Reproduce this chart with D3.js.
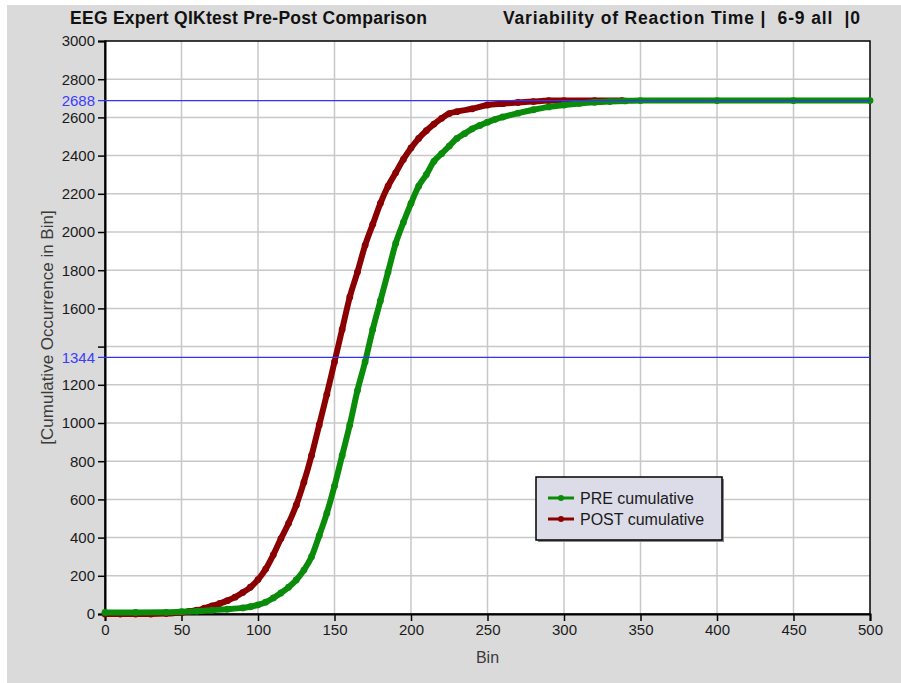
<!DOCTYPE html>
<html>
<head>
<meta charset="utf-8">
<title>EEG Expert QIKtest Pre-Post Comparison</title>
<style>
    html, body {margin: 0px; padding: 0px; overflow: hidden; background: #ffffff;}
    svg {display: block;}
    svg text {font-family: "Liberation Sans", Arial, sans-serif;}
    .tick text {font-size: 15px; fill: #1a1a1a;}
    .mark-label {font-size: 15px; fill: #3c3cff;}
</style>
</head>
<body>
<div id="chart"></div>
<script src="https://cdn.jsdelivr.net/npm/d3@7"></script>
<script>
// values
var titleLeft = "EEG Expert QIKtest Pre-Post Comparison";
var titleRight = "Variability of Reaction Time |  6-9 all  |0";

var preBins = [0, 20, 40, 50, 60, 70, 80, 90, 95, 100, 105, 110, 115, 120, 125, 130, 135, 140, 145, 150,
    155, 160, 165, 170, 175, 180, 185, 190, 195, 200, 205, 210, 215, 220, 225, 230, 235, 240, 245, 250,
    255, 260, 270, 280, 290, 300, 310, 320, 330, 340, 350, 400, 450, 500];
var preValues = [8, 8, 9, 12, 15, 20, 25, 32, 38, 48, 62, 84, 110, 140, 178, 230, 300, 410, 528, 670,
    830, 990, 1170, 1320, 1490, 1640, 1790, 1940, 2050, 2150, 2240, 2300, 2370, 2410, 2450, 2490, 2515, 2540, 2558, 2575,
    2590, 2602, 2622, 2640, 2655, 2665, 2673, 2679, 2683, 2686, 2688, 2688, 2688, 2688];

var postBins = [0, 10, 20, 30, 40, 50, 55, 60, 65, 70, 75, 80, 85, 90, 95, 100, 105, 110, 115, 120,
    125, 130, 135, 140, 145, 150, 155, 160, 165, 170, 175, 180, 185, 190, 195, 200, 205, 210, 215, 220,
    225, 230, 240, 250, 260, 270, 280, 290, 300, 320, 338];
var postValues = [0, 0, 0, 0, 2, 8, 14, 20, 30, 42, 55, 70, 88, 112, 140, 180, 235, 310, 395, 475,
    570, 690, 830, 990, 1150, 1320, 1490, 1660, 1790, 1930, 2040, 2150, 2240, 2310, 2380, 2440, 2490, 2530, 2565, 2595,
    2620, 2630, 2645, 2665, 2672, 2678, 2683, 2688, 2688, 2688, 2688];

var markerLines = [2688, 1344];
var xTicks = d3.range(0, 501, 50);
var yTicks = d3.range(0, 3001, 200);

var width = 901, height = 683;

var svg = d3.select("#chart").append("svg")
    .attr("width", width)
    .attr("height", height);

// grey panel
svg.append("rect")
    .attr("x", 7).attr("y", 5)
    .attr("width", width - 7).attr("height", height - 5)
    .attr("fill", "#dadada");

var x = d3.scaleLinear().domain([0, 500]).range([105, 870]);
var y = d3.scaleLinear().domain([0, 3000]).range([614, 41]);

svg.append("rect")
    .attr("x", x(0)).attr("y", y(3000))
    .attr("width", x(500) - x(0)).attr("height", y(0) - y(3000))
    .attr("fill", "#ffffff");

// grid
svg.append("g").selectAll("line")
    .data(xTicks.slice(1, -1))
  .enter().append("line")
    .attr("x1", function(d) { return x(d); }).attr("x2", function(d) { return x(d); })
    .attr("y1", y(0)).attr("y2", y(3000))
    .attr("stroke", "#c8c8c8").attr("stroke-width", 1.5);

svg.append("g").selectAll("line")
    .data(yTicks.slice(1, -1))
  .enter().append("line")
    .attr("x1", x(0)).attr("x2", x(500))
    .attr("y1", function(d) { return y(d); }).attr("y2", function(d) { return y(d); })
    .attr("stroke", "#c8c8c8").attr("stroke-width", 1.5);

// frame
svg.append("rect")
    .attr("x", x(0)).attr("y", y(3000))
    .attr("width", x(500) - x(0)).attr("height", y(0) - y(3000))
    .attr("fill", "none").attr("stroke", "#000").attr("stroke-width", 1.5);

// axes
var fmt = d3.format("d");
var xAxis = svg.append("g")
    .attr("transform", "translate(0," + y(0) + ")")
    .call(d3.axisBottom(x).tickValues(xTicks).tickFormat(fmt).tickSize(7).tickPadding(3));

var yAxis = svg.append("g")
    .attr("transform", "translate(" + x(0) + ",0)")
    .call(d3.axisLeft(y).tickValues(yTicks).tickFormat(fmt).tickSize(7).tickPadding(3));

[xAxis, yAxis].forEach(function(a) {
    a.attr("font-family", null).attr("font-size", null);
    a.select(".domain").attr("stroke", "#000").attr("stroke-width", 2);
    a.selectAll(".tick line").attr("stroke", "#000").attr("stroke-width", 1.5);
});

// hide a tick label that collides with a marker value label
yAxis.selectAll(".tick text")
    .style("display", function(d) {
        return markerLines.some(function(m) { return Math.abs(m - d) < 60; }) ? "none" : null;
    });

// axis titles
svg.append("text")
    .attr("transform", "translate(47," + ((y(0) + y(3000)) / 2) + ") rotate(-90)")
    .attr("text-anchor", "middle")
    .attr("dy", "0.35em")
    .style("font-size", "17px")
    .attr("fill", "#3a3a3a")
    .text("[Cumulative Occurrence in Bin]");

svg.append("text")
    .attr("x", (x(0) + x(500)) / 2)
    .attr("y", 663)
    .attr("text-anchor", "middle")
    .style("font-size", "16px")
    .attr("fill", "#3a3a3a")
    .text("Bin");

// titles
svg.append("text")
    .attr("x", 70).attr("y", 24)
    .attr("textLength", 357)
    .style("font-size", "17.5px").style("font-weight", "bold")
    .attr("fill", "#111")
    .text(titleLeft);

svg.append("text")
    .attr("x", 503).attr("y", 24)
    .attr("textLength", 357)
    .style("font-size", "17.5px").style("font-weight", "bold")
    .style("white-space", "pre")
    .attr("fill", "#111")
    .text(titleRight);

// series
var line = d3.line()
    .x(function(d) { return x(d[0]); })
    .y(function(d) { return y(d[1]); })
    .curve(d3.curveMonotoneX);

var series = [
    {name: "POST cumulative", color: "#8b0000", data: d3.zip(postBins, postValues)},
    {name: "PRE cumulative", color: "#0a8c0a", data: d3.zip(preBins, preValues)}
];

series.forEach(function(s) {
    var g = svg.append("g");
    g.append("path")
        .datum(s.data)
        .attr("d", line)
        .attr("fill", "none")
        .attr("stroke", s.color)
        .attr("stroke-width", 6)
        .attr("stroke-linejoin", "round")
        .attr("stroke-linecap", "round");
    g.selectAll("circle")
        .data(s.data)
      .enter().append("circle")
        .attr("cx", function(d) { return x(d[0]); })
        .attr("cy", function(d) { return y(d[1]); })
        .attr("r", 3.4)
        .attr("fill", s.color);
});

// marker lines (half and full count)
var marks = svg.append("g");
marks.selectAll("line.mk")
    .data(markerLines)
  .enter().append("line")
    .attr("class", "mk")
    .attr("x1", x(0) - 7).attr("x2", x(500))
    .attr("y1", function(d) { return y(d); }).attr("y2", function(d) { return y(d); })
    .attr("stroke", "#3232ff").attr("stroke-width", 1.2);
marks.selectAll("text")
    .data(markerLines)
  .enter().append("text")
    .attr("class", "mark-label")
    .attr("x", x(0) - 10)
    .attr("y", function(d) { return y(d); })
    .attr("dy", "0.35em")
    .attr("text-anchor", "end")
    .text(function(d) { return fmt(d); });

// legend
var legend = svg.append("g").attr("transform", "translate(536,477)");
legend.append("rect")
    .attr("x", 2).attr("y", 2)
    .attr("width", 186).attr("height", 63)
    .attr("fill", "#8a8a8a");
legend.append("rect")
    .attr("width", 186).attr("height", 63)
    .attr("fill", "#dcdce8")
    .attr("stroke", "#000").attr("stroke-width", 1.5);

var legendItems = legend.selectAll(".item")
    .data(series.slice().reverse())
  .enter().append("g")
    .attr("class", "item")
    .attr("transform", function(d, i) { return "translate(0," + (21 + i * 21) + ")"; });
legendItems.append("line")
    .attr("x1", 12).attr("x2", 38)
    .attr("stroke", function(d) { return d.color; })
    .attr("stroke-width", 3);
legendItems.append("circle")
    .attr("cx", 25).attr("r", 3)
    .attr("fill", function(d) { return d.color; });
legendItems.append("text")
    .attr("x", 44).attr("dy", "0.35em")
    .style("font-size", "16px")
    .attr("fill", "#1a1a1a")
    .text(function(d) { return d.name; });
</script>
</body>
</html>
